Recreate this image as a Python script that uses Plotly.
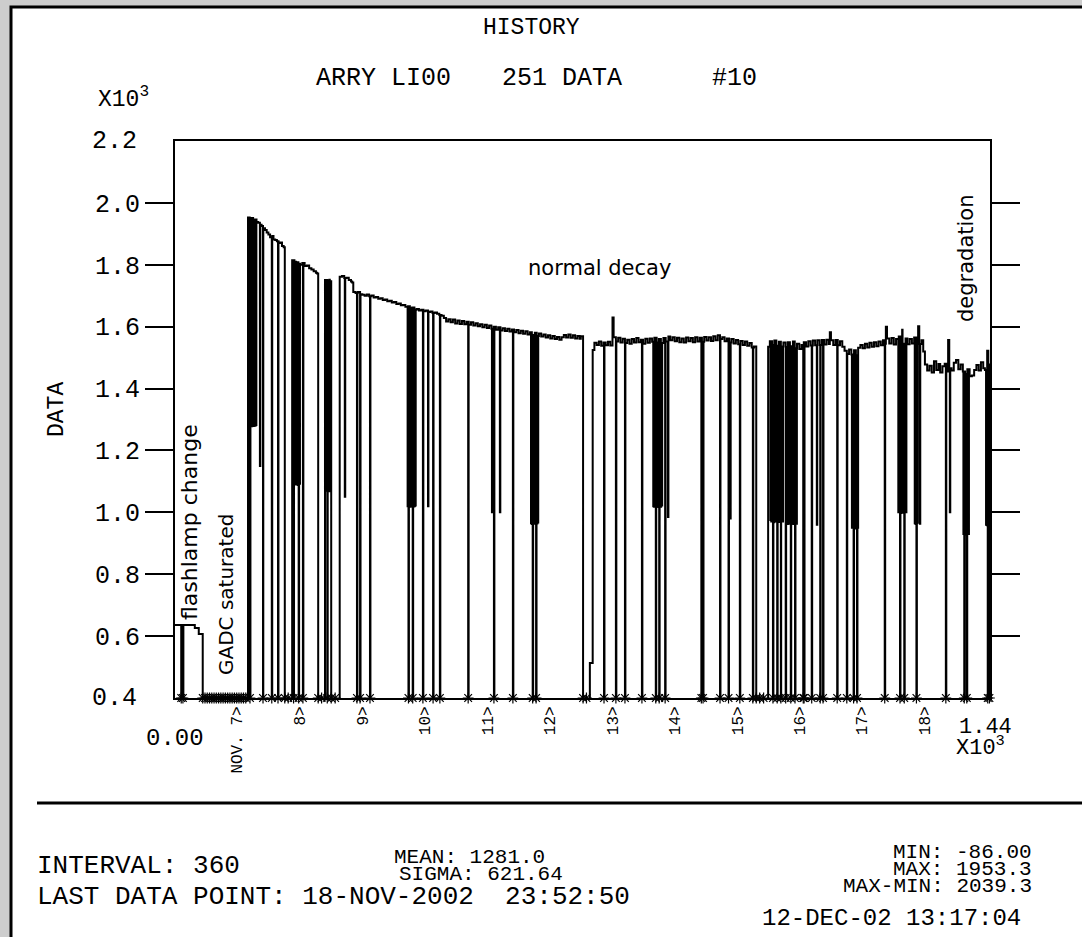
import bisect
import plotly.graph_objects as go

# LI00 history as (sample index, counts) at each change of reading.
# Old flashlamp, before the change
flashlamp = [(0, 636), (35, 626), (42, 607)]
# GADC saturated: readings fall below the plotted range
saturated = [(49, -42), (53, -55), (57, -38), (61, -60), (65, -47), (69, -52), (73, -35),
             (77, -58), (81, -44), (85, -61), (89, -40), (93, -50), (97, -86), (101, -45),
             (105, -57), (109, -39), (113, -53), (117, -48), (121, -62), (125, -41)]
# New flashlamp: fast initial decay, with three short outages
early = [(129, 1953), (132, 1948), (135, 1951), (138, 1944), (141, 1946), (144, 1938),
         (147, 1936), (150, 1929), (153, 1925), (156, 1918), (159, 1912), (162, 1904),
         (165, 1898), (168, 1889), (171, 1893), (174, 1882), (177, 1880), (180, 1876),
         (183, 1870), (186, 1872), (189, 1861), (192, 1857), (194, -48), (200, -55),
         (207, 1815), (211, 1810), (214, 1808), (218, 1803), (221, 1800), (225, 1806),
         (229, 1796), (233, 1798), (237, 1789), (241, 1785), (245, 1779), (249, 1774),
         (251, 1772), (253, -50), (259, -44), (265, 1751), (269, 1749), (272, 1752),
         (274, 1747), (276, -52), (283, -46), (291, 1761), (295, 1764), (299, 1757),
         (303, 1758), (307, 1751), (311, 1746), (313, 1743)]
# Normal decay
decay = [(315, 1712), (319, 1709), (323, 1712), (327, 1705), (331, 1703), (335, 1700),
         (339, 1704), (343, 1698), (347, 1701), (351, 1694), (355, 1696), (359, 1690),
         (363, 1692), (367, 1686), (371, 1688), (375, 1682), (379, 1684), (383, 1678),
         (387, 1680), (391, 1673), (395, 1675), (399, 1669), (403, 1670), (407, 1664),
         (411, 1666), (415, 1660), (419, 1662), (423, 1655), (427, 1657), (431, 1652),
         (435, 1655), (439, 1650), (443, 1652), (447, 1647), (451, 1649), (455, 1644),
         (459, 1646), (463, 1642), (467, 1638), (471, 1635), (475, 1628), (479, 1617),
         (483, 1624), (487, 1614), (491, 1623), (495, 1610), (499, 1620), (503, 1609),
         (507, 1618), (511, 1608), (515, 1616), (519, 1606), (523, 1614), (527, 1604),
         (531, 1611), (535, 1601), (539, 1608), (543, 1598), (547, 1606), (551, 1596),
         (555, 1604), (559, 1593), (563, 1600), (567, 1590), (571, 1598), (575, 1588),
         (579, 1595), (583, 1586), (587, 1593), (591, 1584), (595, 1591), (599, 1582),
         (603, 1589), (607, 1579), (611, 1587), (615, 1577), (619, 1585), (623, 1575),
         (627, 1582), (631, 1573), (635, 1580), (639, 1570), (643, 1578), (647, 1568),
         (651, 1575), (655, 1565), (659, 1572), (663, 1562), (667, 1570), (671, 1560),
         (675, 1567), (679, 1558), (683, 1566), (687, 1573), (691, 1565), (695, 1575),
         (699, 1564), (703, 1572), (707, 1562), (711, 1570), (715, 1561), (717, 1569),
         (721, -50), (727, -38), (733, 513),
         (738, 1525), (741, 1548), (745, 1541), (749, 1552), (753, 1538), (757, 1549),
         (761, 1540), (765, 1551), (769, 1539), (773, 1630), (775, 1566), (779, 1552),
         (783, 1564), (787, 1549), (791, 1561), (795, 1547), (799, 1558), (803, 1545),
         (807, 1560), (811, 1549), (815, 1563), (819, 1550), (823, 1558), (827, 1545),
         (831, 1561), (835, 1548), (839, 1562), (843, 1551), (847, 1564), (851, 1549),
         (855, 1560), (859, 1547), (863, 1563), (867, 1552), (871, 1568), (875, 1556),
         (879, 1566), (883, 1553), (887, 1564), (891, 1550), (895, 1562), (899, 1549),
         (903, 1565), (907, 1553), (911, 1563), (915, 1550), (919, 1566), (923, 1552),
         (927, 1564), (931, 1551), (935, 1567), (939, 1555), (943, 1566), (947, 1554),
         (951, 1569), (955, 1556), (959, 1572), (963, 1560), (967, 1566), (971, 1553),
         (975, 1562), (979, 1549), (983, 1560), (987, 1546), (991, 1557), (995, 1543),
         (999, 1554), (1003, 1541), (1007, 1552), (1011, 1538), (1015, 1547), (1019, 1533),
         (1023, 1536), (1027, -46), (1033, -55), (1040, -42)]
# Late plateau, then degradation
late = [(1048, 1535), (1051, 1553), (1055, 1541), (1059, 1555), (1063, 1538), (1067, 1551),
        (1071, 1536), (1075, 1549), (1079, 1534), (1083, 1550), (1087, 1537), (1091, 1552),
        (1095, 1530), (1099, 1545), (1103, 1528), (1107, 1541), (1111, 1550), (1115, 1536),
        (1119, 1553), (1123, 1539), (1127, 1555), (1131, 1540), (1135, 1556), (1139, 1541),
        (1143, 1557), (1147, 1542), (1151, 1558), (1155, 1544), (1157, 1582), (1159, 1556),
        (1163, 1541), (1167, 1557), (1171, 1540), (1175, 1553), (1179, 1535), (1183, 1522),
        (1187, 1512), (1191, 1526), (1195, 1510), (1199, 1524), (1203, 1508), (1207, 1532),
        (1211, 1541), (1215, 1530), (1219, 1545), (1223, 1533), (1227, 1548), (1231, 1535),
        (1235, 1550), (1239, 1537), (1243, 1552), (1247, 1540), (1251, 1556), (1254, 1545),
        (1256, 1600), (1258, 1562), (1262, 1546), (1266, 1563), (1270, 1542), (1274, 1560),
        (1278, 1568), (1282, 1548), (1284, 1590), (1286, 1545), (1290, 1562), (1294, 1543),
        (1298, 1560), (1302, 1546), (1306, 1565), (1310, 1550), (1313, 1601), (1315, 1544),
        (1319, 1556), (1322, 1520), (1325, 1478), (1329, 1458), (1333, 1474), (1337, 1452),
        (1341, 1488), (1345, 1460), (1349, 1479), (1352, 1452), (1356, 1472), (1360, 1480),
        (1364, 1455), (1366, 1557), (1368, 1466), (1372, 1458), (1376, 1483), (1380, 1492),
        (1384, 1462), (1388, 1478), (1392, 1455), (1396, 1447), (1400, 1462), (1404, 1440),
        (1408, 1442), (1412, 1460), (1416, 1476), (1420, 1458), (1424, 1485), (1428, 1466),
        (1431, 1460), (1435, 1522), (1437, 1478), (1440, 1472)]

# Single-sample dropouts as (sample index, counts recorded there)
dropouts = [
    (11, -50), (14, -45),
    (131, 1280), (132.5, -50), (134, 1282), (135.5, 1278), (137, 1281), (138.5, 1279),
    (140, 1283), (141.5, 1280), (143, 1282), (150, 1150), (155.5, -50), (171, -45), (182, -50),
    (208, 1090), (209.5, -50), (211, 1090), (212.5, 1092), (214, 1095), (215.5, 1090),
    (217, 1088), (218.5, -40), (220, 1092), (226, -50),
    (266, 1070), (267.5, 1072), (269, -45), (270.5, 1070), (272, 1068), (273.5, 1072),
    (300, 1050), (321.5, -48), (327, -50), (344.5, -42),
    (411, 1020), (412.5, -50), (414, 1022), (415.5, 1018), (417, 1020), (418.5, 1021),
    (420, -46), (421.5, 1019), (423, 1020), (424.5, 1022), (438, -50), (447, 1020),
    (456, -48), (468, -44),
    (518, -50), (560, 1000), (563.5, -45), (574, 1000), (597, -50),
    (629, 965), (630.5, 962), (632, -50), (633.5, 968), (635, 963), (636.5, 966),
    (638, -44), (639.5, 964), (641, 967), (758, -50), (779, -45), (795, -48), (825, -50),
    (845, 1020), (846.5, 1018), (848, 1022), (849.5, -50), (851, 1019), (852.5, 1021),
    (854, 1017), (855.5, -46), (857, 1020), (858.5, 1018), (860, 1022), (866, -48), (871, 985),
    (930, -50), (933, -44), (963, -50), (978, -46), (981, 980), (998, -50), (1021, -48),
    (1052, 975), (1053.5, 970), (1055, 972), (1056.5, -50), (1058, 968), (1059.5, 973),
    (1061, 970), (1062.5, 975), (1064, -44), (1066, 971), (1067.5, 969), (1069, 974),
    (1070.5, -47), (1072, 972), (1073.5, 970),
    (1079, -50), (1080.5, 965), (1082, 962), (1083.5, 968), (1085, 963), (1086.5, 966),
    (1088, -45), (1089.5, 964), (1091, 967), (1092.5, 962), (1094, 965), (1095.5, -48),
    (1098, 963), (1110, -50), (1111.5, -44), (1125, -48), (1134, 960), (1140, -50),
    (1145, -46), (1170, -50), (1187, -44),
    (1196, 950), (1197.5, 955), (1199, -50), (1200.5, 952), (1202, 948), (1203.5, 953),
    (1205, -45), (1206.5, 950), (1254, -50),
    (1278, 1000), (1279.5, 1002), (1281, -50), (1282.5, 998), (1284, 1001), (1285.5, 1000),
    (1287, 999), (1288.5, -46), (1290, 1002), (1291.5, 1000),
    (1307, 965), (1308.5, 962), (1310, -50), (1311.5, 966), (1316, 963), (1362, -50),
    (1369, 1000),
    (1393, 930), (1394.5, -50), (1396, 928), (1399, -45), (1400.5, 932), (1402, 930),
    (1433, 960), (1434.5, 958), (1436, -50), (1437.5, 962), (1439, -48)]

# Axis labelling
y_tick_vals = [600, 800, 1000, 1200, 1400, 1600, 1800, 2000]
y_tick_text = ["0.6", "0.8", "1.0", "1.2", "1.4", "1.6", "1.8", "2.0"]
day_ticks = [110, 220, 331, 441, 552, 662, 773, 883, 994, 1104, 1214, 1325]
day_labels = ["NOV. 7>", "8>", "9>", "10>", "11>", "12>", "13>", "14>", "15>",
              "16>", "17>", "18>"]

X_MIN, X_MAX = 0, 1440
Y_MIN, Y_MAX = 400, 2200

levels = flashlamp + saturated + early + decay + late
level_x = [p[0] for p in levels]
level_y = [p[1] for p in levels]


def level_at(x):
    i = bisect.bisect_right(level_x, x) - 1
    return level_y[max(i, 0)]


# merge the step levels with the one-sample dropouts
points = dict(levels)
for dx, _ in dropouts:
    back = dx + 0.8
    points.setdefault(back, level_at(back))
for dx, dy in dropouts:
    points[dx] = dy
xs = sorted(points)
ys = [points[x] for x in xs]

# readings below the axis are flagged with a star on the bottom edge
low_x = [x for x, y in zip(xs, ys) if y < Y_MIN]
low_y = [Y_MIN] * len(low_x)

MONO = "Liberation Mono"
SANS = "DejaVu Sans"

# page geometry (pixels) of the plotting frame
L, R, T, B = 175, 990, 141, 698
W, H = 1082, 937


def fx(p):
    return (p - L) / (R - L)


def fy(p):
    return (B - p) / (B - T)


fig = go.Figure()
fig.add_trace(go.Scatter(x=xs, y=ys, mode="lines",
                         line=dict(color="black", width=2, shape="hv"),
                         hoverinfo="skip"))
fig.add_trace(go.Scatter(x=low_x, y=low_y, mode="markers", cliponaxis=False,
                         marker=dict(symbol="asterisk-open", size=9, color="black",
                                     line=dict(width=1.2, color="black")),
                         hoverinfo="skip"))

fig.update_layout(
    width=W, height=H,
    margin=dict(l=L, r=W - R, t=T, b=H - B, pad=0),
    paper_bgcolor="#cdcdcd", plot_bgcolor="white",
    showlegend=False,
    font=dict(family=MONO, color="black"),
)
fig.update_xaxes(range=[X_MIN, X_MAX], tickvals=day_ticks, ticktext=day_labels,
                 tickangle=-90, ticks="", showgrid=False, zeroline=False,
                 showline=True, linecolor="black", linewidth=2, mirror=True,
                 tickfont=dict(family=MONO, size=16), automargin=False)
fig.update_yaxes(range=[Y_MIN, Y_MAX], tickvals=y_tick_vals, ticktext=y_tick_text,
                 ticks="outside", ticklen=28, tickwidth=2, tickcolor="black",
                 showline=True, linecolor="black", linewidth=2, mirror="ticks",
                 showgrid=False, zeroline=False,
                 tickfont=dict(family=MONO, size=25), automargin=False)

shapes = [
    # white sheet with its black frame
    dict(type="rect", xref="paper", yref="paper", x0=fx(11), x1=fx(1120),
         y0=fy(1000), y1=fy(7), fillcolor="white", line=dict(color="black", width=3),
         layer="below"),
    # rule above the statistics block
    dict(type="line", xref="paper", yref="paper", x0=fx(37), x1=fx(1120),
         y0=fy(803), y1=fy(803), line=dict(color="black", width=3)),
]
fig.update_layout(shapes=shapes)


def note(text, px, py, size, family=MONO, xanchor="left", angle=0, yanchor="middle"):
    return dict(text=text, x=fx(px), y=fy(py), xref="paper", yref="paper",
                showarrow=False, xanchor=xanchor, yanchor=yanchor, textangle=angle,
                font=dict(family=family, size=size, color="black"))


annotations = [
    note("HISTORY", 531, 28, 23, xanchor="center"),
    note("ARRY LI00", 314, 78, 25),
    note("251 DATA", 500, 78, 25),
    note("#10", 710, 78, 25),
    note("X10<sup>3</sup>", 96, 98, 23),
    note("DATA", 57, 410, 23, xanchor="center", angle=-90),
    note("0.00", 175, 738, 24, xanchor="center"),
    note("1.44", 985, 727, 22, xanchor="center"),
    note("X10<sup>3</sup>", 954, 746, 22),
    note("INTERVAL: 360", 35, 866, 26),
    note("LAST DATA POINT: 18-NOV-2002  23:52:50", 35, 897, 26),
    note("MEAN: 1281.0", 392, 857, 21),
    note("SIGMA: 621.64", 397, 874, 21),
    note("MIN: -86.00", 1034, 852, 21, xanchor="right"),
    note("MAX: 1953.3", 1034, 869, 21, xanchor="right"),
    note("MAX-MIN: 2039.3", 1034, 886, 21, xanchor="right"),
    note("12-DEC-02 13:17:04", 760, 918, 24),
    note("normal decay", 599, 268, 21, family=SANS, xanchor="center"),
    note("flashlamp change", 189, 522, 22, family=SANS, xanchor="center", angle=-90),
    note("GADC saturated", 226, 595, 20, family=SANS, xanchor="center", angle=-90),
    note("degradation", 966, 258, 21, family=SANS, xanchor="center", angle=-90),
]
# end labels of the value axis sit on the frame corners
for v, t in ((Y_MIN, "0.4"), (Y_MAX, "2.2")):
    annotations.append(dict(text=t, x=fx(139), xref="paper", y=v, yref="y",
                            showarrow=False, xanchor="right", yanchor="middle",
                            font=dict(family=MONO, size=25, color="black")))
fig.update_layout(annotations=annotations)

fig.write_html("out.html", config={"displayModeBar": False})
